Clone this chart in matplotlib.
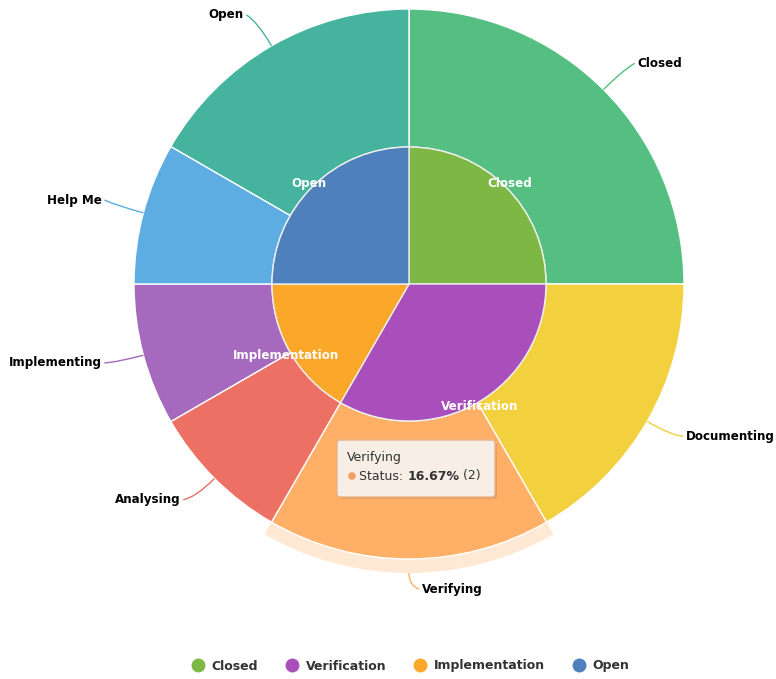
import numpy as np
import matplotlib
matplotlib.use("Agg")
import matplotlib.pyplot as plt
from matplotlib.path import Path
from matplotlib.patches import PathPatch, FancyBboxPatch
from matplotlib.lines import Line2D
from matplotlib.colors import to_rgba

# ---------------- data ----------------
inner_labels = ["Closed", "Verification", "Implementation", "Open"]
inner_values = [3, 4, 2, 3]
inner_colors = ["#7CB843", "#A94FBB", "#FBA82A", "#4E80BC"]

outer_labels = ["Closed", "Documenting", "Verifying", "Analysing",
                "Implementing", "Help Me", "Open"]
outer_values = [3, 2, 2, 1, 1, 1, 2]
outer_colors = ["#54BF80", "#F3D03E", "#FFB066", "#EC7063",
                "#A569BD", "#5DADE2", "#45B39D"]

hover_label = "Verifying"
series_name = "Status"

# ---------------- figure ----------------
W, H = 776, 679
fig = plt.figure(figsize=(W / 100, H / 100), dpi=100)
ax = fig.add_axes([0, 0, 1, 1])

CX, CY = 409, H - 284
R_OUT, R_IN = 275, 137

hi = outer_labels.index(hover_label)

# hover halo
halo_colors = [to_rgba(c, 0.28) if i == hi else (0, 0, 0, 0)
               for i, c in enumerate(outer_colors)]
ax.pie(outer_values, radius=R_OUT + 14, center=(CX, CY), startangle=90,
       counterclock=False, colors=halo_colors,
       wedgeprops=dict(width=14, linewidth=0))

outer_wedges, _ = ax.pie(outer_values, radius=R_OUT, center=(CX, CY),
                         startangle=90, counterclock=False, colors=outer_colors,
                         wedgeprops=dict(width=R_OUT - R_IN, edgecolor="white",
                                         linewidth=1))
inner_wedges, _ = ax.pie(inner_values, radius=R_IN, center=(CX, CY),
                         startangle=90, counterclock=False, colors=inner_colors,
                         wedgeprops=dict(edgecolor="#EEEEEE", linewidth=1))

# outer labels with connectors
for i, (w, lab, col) in enumerate(zip(outer_wedges, outer_labels, outer_colors)):
    th = np.deg2rad((w.theta1 + w.theta2) / 2)
    c, s = np.cos(th), np.sin(th)
    right = c >= -1e-3
    sign = 1 if right else -1
    r0 = R_OUT + 14 if i == hi else R_OUT
    p0 = (CX + r0 * c, CY + r0 * s)
    p1 = (CX + 302 * c, CY + 302 * s)
    tx = CX + 305 * c + sign * 13
    ty = CY + 305 * s + (5 if s > 0.1 else 0)
    p2 = (tx - sign * 3, ty)
    path = Path([p0, p1, p2], [Path.MOVETO, Path.CURVE3, Path.CURVE3])
    ax.add_patch(PathPatch(path, facecolor="none", edgecolor=col, lw=1))
    ax.text(tx, ty, lab, ha="left" if right else "right", va="center",
            fontsize=8.6, fontweight="bold", color="black")

# inner labels
for w, lab in zip(inner_wedges, inner_labels):
    th = np.deg2rad((w.theta1 + w.theta2) / 2)
    ax.text(CX + 142 * np.cos(th), CY + 142 * np.sin(th), lab,
            ha="center", va="center", fontsize=8.6, fontweight="bold",
            color="white")

# tooltip
x0, x1 = 337, 495
y0, y1 = H - 497, H - 440
ax.add_patch(FancyBboxPatch((x0 + 2, y0 - 2), x1 - x0, y1 - y0,
                            boxstyle="round,pad=0,rounding_size=3",
                            facecolor=(0, 0, 0, 0.10), edgecolor="none"))
ax.add_patch(FancyBboxPatch((x0, y0), x1 - x0, y1 - y0,
                            boxstyle="round,pad=0,rounding_size=3",
                            facecolor="#F7EEE6", edgecolor="#E9B48A", lw=1))
ax.text(x0 + 10, H - 457, hover_label, ha="left", va="center",
        fontsize=9, color="#333333")
ax.scatter([x0 + 15], [H - 476], s=30, color="#F0A060", zorder=5,
           edgecolors="none")
pct = outer_values[hi] / sum(outer_values) * 100
t1 = ax.text(x0 + 22, H - 476, f"{series_name}: ", ha="left", va="center",
             fontsize=9, color="#333333")
t2 = ax.annotate(f"{pct:.2f}%", xy=(1, 0.5), xycoords=t1, va="center",
                 ha="left", fontsize=9, fontweight="bold", color="#333333")
ax.annotate(f" ({outer_values[hi]})", xy=(1, 0.5), xycoords=t2, va="center",
            ha="left", fontsize=9, color="#333333")

ax.set_xlim(0, W)
ax.set_ylim(0, H)
ax.set_aspect("equal")
ax.axis("off")

# legend
handles = [Line2D([], [], marker="o", linestyle="none", markersize=9,
                  markerfacecolor=c, markeredgecolor=c) for c in inner_colors]
fig.legend(handles, inner_labels, loc="center", bbox_to_anchor=(0.529, 1 - 666 / H),
           ncol=4, frameon=False, handlelength=1, handletextpad=0.6,
           columnspacing=2.2, prop=dict(size=9, weight="bold"),
           labelcolor="#333333")

fig.savefig("out.png", dpi=100)
